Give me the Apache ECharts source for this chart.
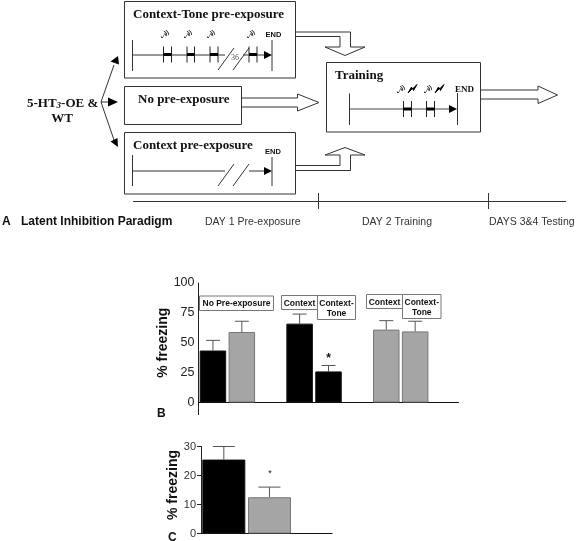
<!DOCTYPE html>
<html><head><meta charset="utf-8">
<style>html,body{margin:0;padding:0;background:#fff}#c{width:578px;height:541px}</style>
<script src="https://cdn.jsdelivr.net/npm/echarts@6/dist/echarts.min.js"></script>
</head><body><div id="c"></div>
<script>
// Panel B
const slotsB = ['s1','s2','gap1','s3','s4','gap2','s5','s6','end'];
const meansB = [43.5, 59, null, 66, 26, null, 61, 59.5, null];
const upperB = [52, 68, null, 74, 31, null, 68.5, 68, null];
const groupB = ['k','g',null,'k','k',null,'g','g',null];
// Panel C
const positionsC = [0.5, 1.5];
const meansC = [25.5, 12.5];
const upperC = [30, 16];
const groupC = ['k','g'];

const BLACK='#000', GRAY='#a5a5a5', EDGE='#777', LINE='#333';
const SERIF='"Liberation Serif","Times New Roman",serif', SANS='"Liberation Sans",Arial,sans-serif';

function ln(x1,y1,x2,y2,w,c){return {type:'line',silent:true,shape:{x1,y1,x2,y2},style:{stroke:c||LINE,lineWidth:w||1}};}
function rect(x,y,width,height,fill,stroke){return {type:'rect',silent:true,shape:{x,y,width,height},style:{fill:fill||'#fff',stroke:stroke||LINE,lineWidth:1}};}
function tx(x,y,text,font,o){
  const size=parseFloat(font.match(/([\d.]+)px/)[1]);
  const opt=o||{}; const rot=opt.rotation; 
  const st=Object.assign({text,font,fill:'#111',textAlign:'left',textVerticalAlign:'middle'},opt); delete st.rotation;
  const el={type:'text',silent:true,x,y:y-size*0.33+0.7,z:10,style:st};
  if(rot) el.rotation=rot;
  return el;
}
function poly(points,fill,stroke){return {type:'polygon',silent:true,shape:{points},style:{fill:fill||'none',stroke:stroke||'none',lineWidth:1}};}
function pline(points,c){return {type:'polyline',silent:true,shape:{points},style:{fill:'none',stroke:c||LINE,lineWidth:1}};}

const g=[];
// boxes
g.push(rect(124.5,1.5,171,76.5));
g.push(rect(124.5,86.5,117,38));
g.push(rect(124.5,132.5,171,61.5));
g.push(rect(326.5,62.5,154,69.5));
// titles
const TF='bold 13px '+SERIF;
g.push(tx(133,18,'Context-Tone pre-exposure',TF));
g.push(tx(138,103,'No pre-exposure',TF));
g.push(tx(133,149,'Context pre-exposure',TF));
g.push(tx(335,79,'Training',TF));
g.push(tx(27,107,'{a|5-HT}{s|3}{a|-OE &}',TF,{rich:{a:{font:TF,fill:'#111'},s:{font:'italic bold 9px '+SERIF,fill:'#111',padding:[4,0,0,0]}}}));
g.push(tx(62,122,'WT',TF,{textAlign:'center'}));
// interval pair
function pair(a,b,y,h){g.push(ln(a,y-h,a,y+h,1,'#222'),ln(b,y-h,b,y+h,1,'#222'),{type:'rect',silent:true,shape:{x:a,y:y-1.5,width:b-a,height:3},style:{fill:'#000'}});}
function head(x,y){g.push(poly([[x-8,y-4],[x,y],[x-8,y+4]],'#000'));}
function tone(x,y){g.push(tx(x,y,'♪',"bold 8px 'DejaVu Sans'",{rotation:-0.5}),tx(x+4,y-2,'))','bold 6px '+SANS,{rotation:0.5}));}
function bolt(x,y){g.push(poly([[x,y+7],[x+3.5,y+1],[x+4.5,y+3],[x+9,y-1.5],[x+5.5,y+4.5],[x+4.5,y+2.5]],'#000','#000'));}
// Top timeline
g.push(ln(132.5,40,132.5,71),ln(132.5,55,225,55));
pair(163.5,171.5,54.5,8);pair(187,194.5,54.5,8);pair(210,218,54.5,8);pair(249,257,54.5,8);
g.push(ln(218,70,234,48),ln(233,70,249,48),ln(257,55,266,55),ln(243,55,249,55));
g.push(tx(231,60,'36','8px '+SERIF,{fill:'#555'}));
head(272,55);g.push(ln(272,40,272,71));
[[161,37],[184,37],[207,37],[247,37]].forEach(p=>tone(p[0],p[1]));
g.push(tx(265.5,37,'END','bold 7.5px '+SANS));
// Bottom timeline
g.push(ln(132.5,155,132.5,186),ln(132.5,171,225,171),ln(218,186,234,164),ln(233,186,249,164),ln(249,171,266,171));
head(272,171);g.push(ln(272,157,272,186));
g.push(tx(265,154,'END','bold 7.5px '+SANS));
// Training timeline
g.push(ln(349.5,93.5,349.5,125),ln(349.5,109,450,109,1,'#444'));
pair(403.5,411.5,109,8);pair(426.5,434.5,109,8);
head(457,109);g.push(ln(457.5,93,457.5,125));
[[397,92],[424,92]].forEach(p=>tone(p[0],p[1]));
[[408,86],[435,86]].forEach(p=>bolt(p[0],p[1]));
g.push(tx(455,92,'END','bold 9px '+SERIF));
// left arrows
g.push(ln(101,102,114,65));
g.push(poly([[118,56],[119,64.5],[110.5,61.5]],'#000'));
g.push(ln(101,102,110,102),poly([[118,102],[108,97.5],[108,106.5]],'#000'));
g.push(ln(101,102,114,140));
g.push(poly([[118,147],[110.5,141.5],[117.5,138]],'#000'));
// double arrows
g.push(pline([[295.5,32],[350.5,32],[350.5,47],[365,47],[345,55.5],[325,47],[340,47],[340,36.5],[295.5,36.5]]));
g.push(pline([[241.5,98],[297.5,98],[297.5,94],[319,102.5],[297.5,111],[297.5,107],[241.5,107]]));
g.push(pline([[295.5,170.5],[350.5,170.5],[350.5,155],[365,155],[345,147.5],[325,155],[340,155],[340,165.5],[295.5,165.5]]));
g.push(pline([[480.5,90],[538,90],[538,86],[557.5,95],[538,103.5],[538,99],[480.5,99]]));
// day axis
g.push(ln(133,201.5,566,201.5),ln(318.5,193,318.5,209),ln(488.5,193,488.5,209));
g.push(tx(2,225,'A','bold 12px '+SANS),tx(21,225,'Latent Inhibition Paradigm','bold 12px '+SANS));
g.push(tx(205,225,'DAY 1 Pre-exposure','10.5px '+SANS,{fill:'#333'}));
g.push(tx(362,225,'DAY 2 Training','10.5px '+SANS,{fill:'#333'}));
g.push(tx(489,225,'DAYS 3&4 Testing','10.5px '+SANS,{fill:'#333'}));
// B labels
function lab(x,y,w,h,lines){g.push(rect(x,y,w,h,'#fff','#777'));lines.forEach((t,i)=>g.push(tx(x+w/2,y+10+i*10,t,'bold 8.5px '+SANS,{textAlign:'center'})));}
lab(199.5,296,74,14.5,['No Pre-exposure']);
lab(281.5,295.5,36,14,['Context']);
lab(317.5,295.5,38,24,['Context-','Tone']);
lab(366.5,294.5,36,14,['Context']);
lab(402.5,294.5,38.5,24,['Context-','Tone']);
g.push(tx(328.7,362,'*','bold 12px '+SANS,{textAlign:'center'}));
g.push(tx(270,476,'*','9px '+SANS,{textAlign:'center'}));
g.push(tx(157,417,'B','bold 12px '+SANS),tx(168,541,'C','bold 12px '+SANS));
// y-axis stub below zero
g.push(ln(198.5,402.5,198.5,415,1,'#222'));

function errSeries(xIdx,yIdx,pts,halfCap){
  return {type:'custom',xAxisIndex:xIdx,yAxisIndex:yIdx,z:1,silent:true,data:pts,clip:false,
    renderItem(p,api){
      const a=api.coord([api.value(0),api.value(1)]),b=api.coord([api.value(0),api.value(2)]);
      const s={stroke:'#555',lineWidth:1};
      return {type:'group',children:[
        {type:'line',shape:{x1:a[0],y1:a[1],x2:a[0],y2:b[1]},style:s},
        {type:'line',shape:{x1:a[0]-halfCap,y1:b[1],x2:a[0]+halfCap,y2:b[1]},style:s}]};
    }};
}
const itemFor=k=>k==='k'?{color:BLACK,borderColor:'#111',borderWidth:1}:{color:GRAY,borderColor:EDGE,borderWidth:1};
const dataB=meansB.map((v,i)=>v==null?{value:null}:{value:v,itemStyle:itemFor(groupB[i])});
const errB=meansB.map((v,i)=>v==null?null:[i,v,upperB[i]]).filter(Boolean);
const dataC=meansC.map((v,i)=>({value:[positionsC[i],v],itemStyle:itemFor(groupC[i])}));
const errC=meansC.map((v,i)=>[positionsC[i],v,upperC[i]]);

const chart=echarts.init(document.getElementById('c'),null,{renderer:'canvas'});
chart.setOption({
  animation:false,backgroundColor:'#fff',
  grid:[{left:198.5,top:283,width:260,height:119.5,containLabel:false},
        {left:201,top:446.5,width:131,height:87,containLabel:false}],
  xAxis:[
    {type:'category',gridIndex:0,data:slotsB,axisTick:{show:false},axisLabel:{show:false},axisLine:{lineStyle:{color:'#111',width:1.2}}},
    {type:'value',gridIndex:1,min:0,max:2.87,splitLine:{show:false},axisTick:{show:false},axisLabel:{show:false},axisLine:{show:true,onZero:false,lineStyle:{color:'#111',width:1.2}}}
  ],
  yAxis:[
    {type:'value',gridIndex:0,min:0,max:100,interval:25,name:'% freezing',nameLocation:'middle',nameGap:21,nameRotate:90,
      nameTextStyle:{fontFamily:'Liberation Sans',fontWeight:'bold',fontSize:14,color:'#111'},
      splitLine:{show:false},axisLine:{show:true,lineStyle:{color:'#222'}},axisTick:{length:3,lineStyle:{color:'#222'}},
      axisLabel:{fontFamily:'Liberation Sans',fontSize:12.5,color:'#222',margin:4}},
    {type:'value',gridIndex:1,min:0,max:30,interval:10,name:'% freezing',nameLocation:'middle',nameGap:2,nameRotate:90,
      nameTextStyle:{fontFamily:'Liberation Sans',fontWeight:'bold',fontSize:14,color:'#111',padding:[0,0,0,10]},
      splitLine:{show:false},axisLine:{show:true,lineStyle:{color:'#222'}},axisTick:{length:4,lineStyle:{color:'#222'}},
      axisLabel:{fontFamily:'Liberation Sans',fontSize:11,color:'#333',margin:5}}
  ],
  series:[
    errSeries(0,0,errB,7),
    {type:'bar',xAxisIndex:0,yAxisIndex:0,barWidth:26.5,z:2,silent:true,data:dataB},
    errSeries(1,1,errC,11),
    {type:'bar',xAxisIndex:1,yAxisIndex:1,barWidth:43,z:2,silent:true,data:dataC}
  ],
  graphic:{elements:g}
});
</script></body></html>
